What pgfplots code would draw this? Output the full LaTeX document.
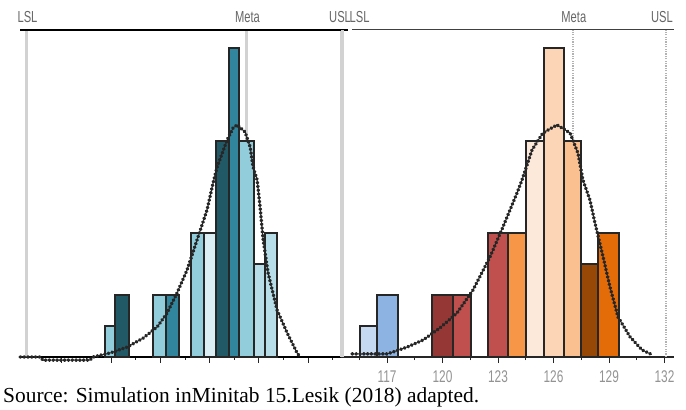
\documentclass[border=0pt]{standalone}
\usepackage{fontspec}
\setmainfont{Liberation Serif}
\newfontfamily\labfont{Liberation Sans}
\usepackage{pgfplots}
\pgfplotsset{compat=1.18}

% left panel (blue shades)
\definecolor{lb1}{HTML}{92CDDC}
\definecolor{lb2}{HTML}{215967}
\definecolor{lb3}{HTML}{31859C}
\definecolor{lb4}{HTML}{DAEEF3}
\definecolor{lb5}{HTML}{B7DEE8}
% right panel
\definecolor{rb1}{HTML}{C5D9F1}
\definecolor{rb2}{HTML}{8DB3E2}
\definecolor{rb3}{HTML}{953735}
\definecolor{rb4}{HTML}{C0504D}
\definecolor{rb5}{HTML}{F79646}
\definecolor{rb6}{HTML}{FDE9D9}
\definecolor{rb7}{HTML}{FBD5B5}
\definecolor{rb8}{HTML}{FAC08F}
\definecolor{rb9}{HTML}{974806}
\definecolor{rb10}{HTML}{E36C09}
\definecolor{edge}{HTML}{262626}
\definecolor{spec}{HTML}{D2D2D2}
\definecolor{labc}{HTML}{666666}

\tikzset{
  speclab/.style={anchor=base, text=labc, xscale=0.7,
    font=\labfont\fontsize{16}{16}\selectfont},
}
\pgfplotsset{
  hist/.style={
    scale only axis, height=327bp,
    ymin=0, ymax=10.58,
    axis x line*=bottom, axis y line=none,
    ytick=\empty,
    tick align=outside,
    major tick length=6bp, minor tick length=3bp,
    clip=false,
  },
  bar/.style={fill=#1, draw=edge, line width=1.8bp},
  curve/.style={draw=edge, line width=3.4bp, line cap=round,
    dash pattern=on 0.8bp off 3bp},
}

\begin{document}
\begin{tikzpicture}
\useasboundingbox (0bp,0bp) rectangle (686bp,410bp);

% ---------------- left panel ----------------
\begin{axis}[hist, anchor=origin, at={(20bp,53bp)}, width=325bp,
  xmin=108.59, xmax=135.0,
  xtick={112,116,...,132}, minor xtick={114,118,...,134},
  xticklabels={,,,,,},
  x axis line style={line width=1.5bp, black},
  xtick style={line width=1bp, edge},
]
\draw[spec, line width=3.5bp] (axis cs:109.1,0) -- (axis cs:109.1,10.58);
\draw[spec, line width=3.5bp] (axis cs:127.0,0) -- (axis cs:127.0,10.58);
\draw[spec, line width=3.5bp] (axis cs:134.7,0) -- (axis cs:134.7,10.58);
\draw[black, line width=2bp] (axis cs:108.59,10.58) -- (axis cs:135.25,10.58);
\node[speclab] at (axis cs:109.2,10.58) [yshift=7bp] {LSL};
\node[speclab] at (axis cs:127.08,10.58) [yshift=7bp] {Meta};
\node[speclab] at (axis cs:134.6,10.58) [yshift=7bp] {USL};

\addplot[bar=lb1] coordinates {(115.50,0)(115.50,1)(116.31,1)(116.31,0)} \closedcycle;
\addplot[bar=lb2] coordinates {(116.31,0)(116.31,2)(117.45,2)(117.45,0)} \closedcycle;
\addplot[bar=lb1] coordinates {(119.40,0)(119.40,2)(120.46,2)(120.46,0)} \closedcycle;
\addplot[bar=lb3] coordinates {(120.46,0)(120.46,2)(121.52,2)(121.52,0)} \closedcycle;
\addplot[bar=lb1] coordinates {(122.49,0)(122.49,4)(123.55,4)(123.55,0)} \closedcycle;
\addplot[bar=lb4] coordinates {(123.55,0)(123.55,4)(124.52,4)(124.52,0)} \closedcycle;
\addplot[bar=lb2] coordinates {(124.52,0)(124.52,7)(125.58,7)(125.58,0)} \closedcycle;
\addplot[bar=lb3] coordinates {(125.58,0)(125.58,10)(126.39,10)(126.39,0)} \closedcycle;
\addplot[bar=lb1] coordinates {(126.39,0)(126.39,7)(127.61,7)(127.61,0)} \closedcycle;
\addplot[bar=lb5] coordinates {(127.61,0)(127.61,3)(128.51,3)(128.51,0)} \closedcycle;
\addplot[bar=lb5] coordinates {(128.51,0)(128.51,4)(129.48,4)(129.48,0)} \closedcycle;

\addplot[curve] coordinates {
  (108.59,0) (110.22,0) (110.46,-0.1) (114.28,-0.1) (114.52,0)
  (115.91,0.13) (117.29,0.32) (118.59,0.61) (119.73,0.97) (120.54,1.42)
  (121.35,2.07) (122.17,2.82) (122.98,3.79) (123.79,4.76) (124.28,5.63)
  (124.61,6.15) (125.42,7.02) (125.91,7.41) (126.23,7.51) (126.88,7.28)
  (127.29,6.80) (127.53,6.15) (127.86,5.73) (128.10,4.85) (128.35,3.79)
  (128.75,2.72) (129.48,1.52) (130.30,0.78) (131.11,0.13) (131.35,0)
};
\end{axis}

% ---------------- right panel ----------------
\begin{axis}[hist, anchor=origin, at={(340.75bp,53bp)}, width=333bp,
  xmin=114.5, xmax=132.5,
  xtick={117,120,...,132}, minor xtick={115.5,118.5,...,130.5},
  xticklabels={117,120,123,126,129,132},
  xticklabel style={text=gray!85, xscale=0.7, yshift=-4bp,
    font=\labfont\fontsize{17}{17}\selectfont},
  x axis line style={line width=1.2bp, edge},
  xtick style={line width=1bp, edge},
]
\draw[spec, line width=3bp] (axis cs:114.57,0) -- (axis cs:114.57,10.58);
\draw[spec!85!black, line width=2bp, dash pattern=on 1.2bp off 1.2bp]
  (axis cs:127.05,0) -- (axis cs:127.05,10.58);
\draw[spec!85!black, line width=2bp, dash pattern=on 1.2bp off 1.2bp]
  (axis cs:132.1,0) -- (axis cs:132.1,10.58);
\draw[black!75, line width=1bp] (axis cs:115.11,10.58) -- (axis cs:132.5,10.58);
\node[speclab] at (axis cs:115.52,10.58) [yshift=7bp] {LSL};
\node[speclab] at (axis cs:127.1,10.58) [yshift=7bp] {Meta};
\node[speclab] at (axis cs:131.86,10.58) [yshift=7bp] {USL};

\addplot[bar=rb1] coordinates {(115.54,0)(115.54,1)(116.46,1)(116.46,0)} \closedcycle;
\addplot[bar=rb2] coordinates {(116.46,0)(116.46,2)(117.59,2)(117.59,0)} \closedcycle;
\addplot[bar=rb3] coordinates {(119.43,0)(119.43,2)(120.57,2)(120.57,0)} \closedcycle;
\addplot[bar=rb4] coordinates {(120.57,0)(120.57,2)(121.54,2)(121.54,0)} \closedcycle;
\addplot[bar=rb4] coordinates {(122.46,0)(122.46,4)(123.54,4)(123.54,0)} \closedcycle;
\addplot[bar=rb5] coordinates {(123.54,0)(123.54,4)(124.51,4)(124.51,0)} \closedcycle;
\addplot[bar=rb6] coordinates {(124.51,0)(124.51,7)(125.49,7)(125.49,0)} \closedcycle;
\addplot[bar=rb7] coordinates {(125.49,0)(125.49,10)(126.57,10)(126.57,0)} \closedcycle;
\addplot[bar=rb8] coordinates {(126.57,0)(126.57,7)(127.49,7)(127.49,0)} \closedcycle;
\addplot[bar=rb9] coordinates {(127.49,0)(127.49,3)(128.41,3)(128.41,0)} \closedcycle;
\addplot[bar=rb10] coordinates {(128.41,0)(128.41,4)(129.54,4)(129.54,0)} \closedcycle;

\addplot[curve] coordinates {
  (115.11,0.10) (117.00,0.10) (117.32,0.16) (118.08,0.32) (118.95,0.55)
  (119.86,0.94) (120.78,1.42) (121.65,2.17) (122.57,3.24) (123.27,4.21)
  (124.03,5.31) (124.30,5.73) (124.84,6.70) (125.43,7.25) (126.19,7.51)
  (126.89,7.25) (127.32,6.60) (127.59,5.73) (127.97,5.08) (128.24,4.34)
  (128.68,3.24) (129.05,2.27) (129.49,1.29) (130.14,0.65) (130.78,0.23)
  (131.38,0.06)
};
\end{axis}

\node[anchor=base west, font=\fontsize{21.5}{21.5}\selectfont, inner sep=0pt]
  at (3bp,8bp) {Source: Simulation inMinitab 15.Lesik (2018) adapted.};
\end{tikzpicture}
\end{document}
